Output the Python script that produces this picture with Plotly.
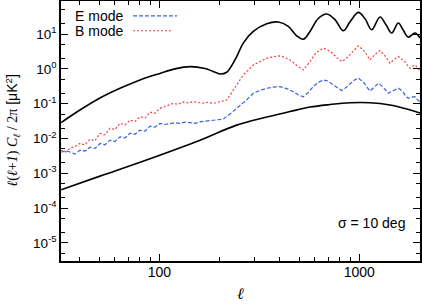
import plotly.graph_objects as go

# ---- data ----
ee_l = [32.3, 40.1, 50.5, 63.6, 80.1, 100.8, 119.8, 142.4, 169.3, 186.2, 201.1, 217.3, 225.7,
        243.8, 263.0, 295.1, 344.4, 393.6, 441.6, 486.4, 524.8, 567, 621.6, 687.1, 756, 831.8,
        899, 988.6, 1068, 1153, 1269, 1360, 1452, 1567, 1654, 1758, 1899, 2012]
ee_v = [0.0286, 0.0656, 0.1455, 0.277, 0.481, 0.740, 0.998, 1.163, 1.02, 0.84, 0.71, 0.80, 1.045,
        2.26, 5.50, 11.9, 19.8, 22.2, 16.6, 8.93, 7.08, 11.9, 27.6, 37.8, 25.9, 12.45,
        22.6, 42.0, 27.6, 13.3, 30.9, 18.5, 10.7, 20.8, 13.3, 8.20, 10.7, 7.67]

bb_l = [32.3, 50.5, 89.9, 159.8, 243.8, 344.4, 450.3, 567, 714, 899, 1131, 1424, 1692, 2012]
bb_v = [3.38e-4, 8.29e-4, 2.63e-3, 8.94e-3, 0.0242, 0.0412, 0.0593, 0.080, 0.0945, 0.1064,
        0.1064, 0.0914, 0.0724, 0.0537]

e_l = [32.3, 34.0, 35.8, 37.9, 40.1, 42.5, 45.0, 47.7, 50.5, 53.5, 56.7, 60.0, 63.6, 67.4, 71.4,
       75.6, 80.1, 84.9, 89.9, 95.2, 100.8, 106.8, 113.1, 119.8, 126.9, 134.4, 142.4, 150.9,
       159.8, 172.2, 185.6, 197.0, 208.9, 225.7, 239.0, 253.2, 273.0, 295.1, 318.9, 344.4, 372.0,
       401.4, 433.0, 467.7, 495.0, 524.8, 555.0, 586.9, 622.0, 660.7, 695.0, 730.4, 772.0,
       816.6, 858.0, 899, 942.0, 988.6, 1020, 1056, 1092, 1131, 1190, 1245, 1314, 1355, 1396,
       1480, 1567, 1610, 1654, 1700, 1758, 1830, 1899, 1950, 2012]
e_v = [4.03e-3, 4.45e-3, 4.10e-3, 3.55e-3, 4.60e-3, 4.35e-3, 5.61e-3, 5.20e-3, 7.18e-3, 6.60e-3,
       8.94e-3, 8.20e-3, 0.01113, 0.0104, 0.01423, 0.0132, 0.01737, 0.0162, 0.0226, 0.0212,
       0.0271, 0.0252, 0.0267, 0.0285, 0.0271, 0.0295, 0.0286, 0.0272, 0.0301, 0.0318, 0.0326,
       0.0342, 0.0361, 0.0503, 0.0660, 0.0855, 0.128, 0.1987, 0.242, 0.277, 0.300, 0.308, 0.272,
       0.221, 0.180, 0.1585, 0.210, 0.302, 0.410, 0.481, 0.450, 0.368, 0.292, 0.2393, 0.290, 0.368,
       0.470, 0.549, 0.480, 0.394, 0.300, 0.2315, 0.300, 0.386, 0.302, 0.240, 0.1987, 0.240,
       0.277, 0.250, 0.2166, 0.170, 0.1426, 0.155, 0.1585, 0.130, 0.1138]

b_l = [32.3, 34.0, 35.8, 37.9, 40.1, 42.5, 45.0, 47.7, 50.5, 53.5, 56.7, 60.0, 63.6, 67.4, 71.4,
       75.6, 80.1, 84.9, 89.9, 95.2, 100.8, 108.5, 117.5, 124.0, 131.4, 139.5, 147.9, 156.5,
       165.4, 175.5, 186.2, 201.1, 217.3, 225.7, 243.8, 263.0, 295.1, 318.9, 344.4, 393.6, 420.0,
       450.3, 486.4, 524.8, 567, 607.5, 660.7, 695.0, 730.4, 772.0, 816.6, 858.0, 899, 988.6,
       1056, 1131, 1200, 1269, 1344, 1424, 1490, 1567, 1673, 1793, 1899, 2012]
b_v = [4.60e-3, 4.10e-3, 5.25e-3, 5.90e-3, 7.18e-3, 6.60e-3, 9.55e-3, 8.60e-3, 0.0139, 0.0128,
       0.0198, 0.0180, 0.0271, 0.0245, 0.0337, 0.0310, 0.0420, 0.0390, 0.0574, 0.0530, 0.0734,
       0.0850, 0.102, 0.096, 0.112, 0.106, 0.114, 0.108, 0.104, 0.110, 0.102, 0.114, 0.127, 0.178,
       0.345, 0.670, 1.30, 1.65, 2.03, 2.37, 2.20, 1.81, 1.25, 0.934, 1.62, 2.89, 3.95, 3.50, 2.89,
       2.10, 1.62, 1.95, 2.53, 4.60, 3.30, 1.81, 2.60, 3.37, 2.37, 1.46, 1.85, 2.26, 1.70, 1.045,
       1.30, 0.891]

y_major = [1e-5, 1e-4, 1e-3, 1e-2, 1e-1, 1, 10]
y_labels = ["10<sup>-5</sup>", "10<sup>-4</sup>", "10<sup>-3</sup>", "10<sup>-2</sup>",
            "10<sup>-1</sup>", "10<sup>0</sup>", "10<sup>1</sup>"]
x_major = [100, 1000]
x_labels = ["100", "1000"]

BLUE = "#3a62dc"
RED = "#f04040"

fig = go.Figure()
fig.add_trace(go.Scatter(x=b_l, y=b_v, mode="lines", line=dict(color=RED, width=1.2, dash="2px,2px")))
fig.add_trace(go.Scatter(x=e_l, y=e_v, mode="lines", line=dict(color=BLUE, width=1.2, dash="4px,2px")))
fig.add_trace(go.Scatter(x=ee_l, y=ee_v, mode="lines", line=dict(color="black", width=1.6, shape="spline")))
fig.add_trace(go.Scatter(x=bb_l, y=bb_v, mode="lines", line=dict(color="black", width=1.6, shape="spline")))

minor_x = [m * 10 ** k for k in (1, 2, 3) for m in range(2, 10)]
minor_y = [m * 10 ** k for k in range(-6, 2) for m in (2, 5)]

font = "Liberation Sans, Arial, sans-serif"
fig.update_xaxes(type="log", range=[1.5085, 3.3035], showline=True, mirror="ticks", automargin=False,
                 linecolor="black", linewidth=1.5, showgrid=False, zeroline=False,
                 ticks="inside", ticklen=7, tickwidth=1, tickcolor="black",
                 tickmode="array", tickvals=x_major, ticktext=x_labels, ticklabelstandoff=-3,
                 tickfont=dict(family=font, size=14, color="black"),
                 minor=dict(ticks="inside", ticklen=4, tickcolor="black", tickmode="array",
                            tickvals=minor_x, showgrid=False))
fig.update_yaxes(type="log", range=[-5.52, 1.95], showline=True, mirror="ticks", automargin=False,
                 linecolor="black", linewidth=1.5, showgrid=False, zeroline=False,
                 ticks="inside", ticklen=7, tickwidth=1, tickcolor="black",
                 tickmode="array", tickvals=y_major, ticktext=y_labels,
                 tickfont=dict(family=font, size=13.5, color="black"),
                 minor=dict(ticks="inside", ticklen=4, tickcolor="black", tickmode="array",
                            tickvals=minor_y, showgrid=False))

# axis titles
fig.add_annotation(xref="paper", yref="paper", x=0.5, y=-0.126, xanchor="center", yanchor="middle",
                   text="<i>ℓ</i>", showarrow=False,
                   font=dict(family="Liberation Serif, serif", size=16, color="black"))
fig.add_annotation(xref="paper", yref="paper", x=-0.135, y=0.5, xanchor="center", yanchor="middle",
                   textangle=-90, showarrow=False,
                   text="<span style=\"font-family:Liberation Serif\"><i>ℓ</i>(<i>ℓ</i>+<i>1</i>) "
                        "<i>C<sub>ℓ</sub></i> / 2π</span> [μK<sup>2</sup>]",
                   font=dict(family=font, size=14, color="black"))

fig.add_annotation(xref="paper", yref="paper", x=0.0334, y=0.9427, xanchor="left", yanchor="middle",
                   text="E mode", showarrow=False, font=dict(family=font, size=14, color="black"))
fig.add_annotation(xref="paper", yref="paper", x=0.0334, y=0.8858, xanchor="left", yanchor="middle",
                   text="B mode", showarrow=False, font=dict(family=font, size=14, color="black"))
fig.add_shape(type="line", xref="paper", yref="paper", x0=0.2006, x1=0.3231, y0=0.9427, y1=0.9427,
              line=dict(color=BLUE, width=1.1, dash="4px,2px"))
fig.add_shape(type="line", xref="paper", yref="paper", x0=0.2006, x1=0.312, y0=0.8858, y1=0.8858,
              line=dict(color=RED, width=1.1, dash="2px,2px"))
fig.add_annotation(xref="paper", yref="paper", x=0.963, y=0.1473, xanchor="right", yanchor="middle",
                   text="σ = 10 deg", showarrow=False, font=dict(family=font, size=14, color="black"))

fig.update_layout(width=422, height=305, margin=dict(l=61, r=2, t=1, b=44),
                  paper_bgcolor="white", plot_bgcolor="white", showlegend=False)
fig.write_html("out.html", config={"displayModeBar": False},
               post_script="document.body.style.margin='0px';")
